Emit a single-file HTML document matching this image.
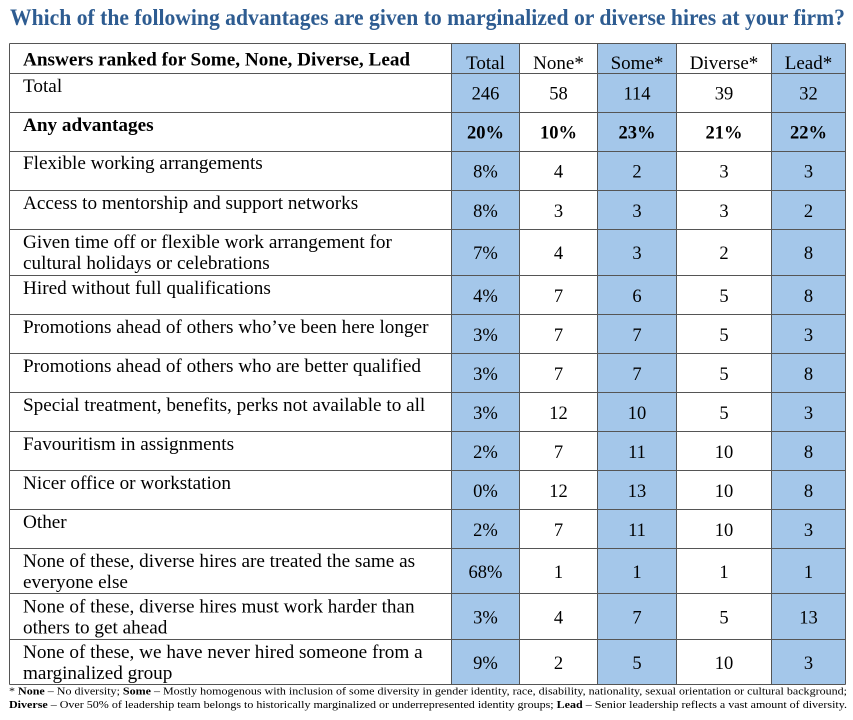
<!DOCTYPE html>
<html>
<head>
<meta charset="utf-8">
<style>
  html,body{margin:0;padding:0;background:#fff;}
  svg{display:block;}
  text{font-family:"Liberation Serif","Times New Roman",serif;fill:#000;}
  .lbl{font-size:19.2px;}
  .num{font-size:18.5px;text-anchor:middle;}
  .hd{font-size:19px;text-anchor:middle;}
  .b{font-weight:bold;}
  .fn{font-size:11px;}
</style>
</head>
<body>
<svg width="853" height="720" viewBox="0 0 853 720" xmlns="http://www.w3.org/2000/svg">
  <rect x="0" y="0" width="853" height="720" fill="#fff"/>
  <text x="10" y="25" font-size="23.5" font-weight="bold" style="fill:#2e5c91" textLength="835" lengthAdjust="spacingAndGlyphs">Which of the following advantages are given to marginalized or diverse hires at your firm?</text>

  <!-- blue columns -->
  <rect x="451.5" y="43.5" width="68" height="641" fill="#a4c7ea"/>
  <rect x="597.5" y="43.5" width="79" height="641" fill="#a4c7ea"/>
  <rect x="771.5" y="43.5" width="74" height="641" fill="#a4c7ea"/>

  <!-- grid -->
  <g stroke="#555" stroke-width="1" fill="none">
    <line x1="9.5" y1="43.5" x2="845.5" y2="43.5"/>
    <line x1="9.5" y1="73.5" x2="845.5" y2="73.5"/>
    <line x1="9.5" y1="112.5" x2="845.5" y2="112.5"/>
    <line x1="9.5" y1="151.5" x2="845.5" y2="151.5"/>
    <line x1="9.5" y1="190.5" x2="845.5" y2="190.5"/>
    <line x1="9.5" y1="229.5" x2="845.5" y2="229.5"/>
    <line x1="9.5" y1="275.5" x2="845.5" y2="275.5"/>
    <line x1="9.5" y1="314.5" x2="845.5" y2="314.5"/>
    <line x1="9.5" y1="353.5" x2="845.5" y2="353.5"/>
    <line x1="9.5" y1="392.5" x2="845.5" y2="392.5"/>
    <line x1="9.5" y1="431.5" x2="845.5" y2="431.5"/>
    <line x1="9.5" y1="470.5" x2="845.5" y2="470.5"/>
    <line x1="9.5" y1="509.5" x2="845.5" y2="509.5"/>
    <line x1="9.5" y1="548.5" x2="845.5" y2="548.5"/>
    <line x1="9.5" y1="593.5" x2="845.5" y2="593.5"/>
    <line x1="9.5" y1="639.5" x2="845.5" y2="639.5"/>
    <line x1="9.5" y1="684.5" x2="845.5" y2="684.5"/>
    <line x1="9.5" y1="43.5" x2="9.5" y2="684.5"/>
    <line x1="451.5" y1="43.5" x2="451.5" y2="684.5"/>
    <line x1="519.5" y1="43.5" x2="519.5" y2="684.5"/>
    <line x1="597.5" y1="43.5" x2="597.5" y2="684.5"/>
    <line x1="676.5" y1="43.5" x2="676.5" y2="684.5"/>
    <line x1="771.5" y1="43.5" x2="771.5" y2="684.5"/>
    <line x1="845.5" y1="43.5" x2="845.5" y2="684.5"/>
  </g>

  <!-- header -->
  <text class="lbl b" x="23" y="65.5">Answers ranked for Some, None, Diverse, Lead</text>
  <text class="hd" x="485.5" y="69">Total</text>
  <text class="hd" x="558.5" y="69">None*</text>
  <text class="hd" x="637" y="69">Some*</text>
  <text class="hd" x="724" y="69">Diverse*</text>
  <text class="hd" x="808.5" y="69">Lead*</text>

  <!-- Total -->
  <text class="lbl" x="23" y="92">Total</text>
  <text class="num" x="485.5" y="99.5">246</text>
  <text class="num" x="558.5" y="99.5">58</text>
  <text class="num" x="637" y="99.5">114</text>
  <text class="num" x="724" y="99.5">39</text>
  <text class="num" x="808.5" y="99.5">32</text>

  <!-- Any -->
  <text class="lbl b" x="23" y="131">Any advantages</text>
  <text class="num b" x="485.5" y="138.5">20%</text>
  <text class="num b" x="558.5" y="138.5">10%</text>
  <text class="num b" x="637" y="138.5">23%</text>
  <text class="num b" x="724" y="138.5">21%</text>
  <text class="num b" x="808.5" y="138.5">22%</text>

  <!-- Flexible 151-191 -->
  <text class="lbl" x="23" y="169">Flexible working arrangements</text>
  <text class="num" x="485.5" y="177.5">8%</text>
  <text class="num" x="558.5" y="177.5">4</text>
  <text class="num" x="637" y="177.5">2</text>
  <text class="num" x="724" y="177.5">3</text>
  <text class="num" x="808.5" y="177.5">3</text>

  <!-- Access 191-229 -->
  <text class="lbl" x="23" y="209">Access to mentorship and support networks</text>
  <text class="num" x="485.5" y="217">8%</text>
  <text class="num" x="558.5" y="217">3</text>
  <text class="num" x="637" y="217">3</text>
  <text class="num" x="724" y="217">3</text>
  <text class="num" x="808.5" y="217">2</text>

  <!-- Given 229-275 -->
  <text class="lbl" x="23" y="248">Given time off or flexible work arrangement for</text>
  <text class="lbl" x="23" y="269">cultural holidays or celebrations</text>
  <text class="num" x="485.5" y="259">7%</text>
  <text class="num" x="558.5" y="259">4</text>
  <text class="num" x="637" y="259">3</text>
  <text class="num" x="724" y="259">2</text>
  <text class="num" x="808.5" y="259">8</text>

  <!-- Hired 275-314 -->
  <text class="lbl" x="23" y="294">Hired without full qualifications</text>
  <text class="num" x="485.5" y="302">4%</text>
  <text class="num" x="558.5" y="302">7</text>
  <text class="num" x="637" y="302">6</text>
  <text class="num" x="724" y="302">5</text>
  <text class="num" x="808.5" y="302">8</text>

  <!-- Prom1 314-353 -->
  <text class="lbl" x="23" y="333">Promotions ahead of others who’ve been here longer</text>
  <text class="num" x="485.5" y="341">3%</text>
  <text class="num" x="558.5" y="341">7</text>
  <text class="num" x="637" y="341">7</text>
  <text class="num" x="724" y="341">5</text>
  <text class="num" x="808.5" y="341">3</text>

  <!-- Prom2 353-392 -->
  <text class="lbl" x="23" y="372">Promotions ahead of others who are better qualified</text>
  <text class="num" x="485.5" y="380">3%</text>
  <text class="num" x="558.5" y="380">7</text>
  <text class="num" x="637" y="380">7</text>
  <text class="num" x="724" y="380">5</text>
  <text class="num" x="808.5" y="380">8</text>

  <!-- Special 392-431 -->
  <text class="lbl" x="23" y="411">Special treatment, benefits, perks not available to all</text>
  <text class="num" x="485.5" y="419">3%</text>
  <text class="num" x="558.5" y="419">12</text>
  <text class="num" x="637" y="419">10</text>
  <text class="num" x="724" y="419">5</text>
  <text class="num" x="808.5" y="419">3</text>

  <!-- Fav 431-470 -->
  <text class="lbl" x="23" y="450">Favouritism in assignments</text>
  <text class="num" x="485.5" y="458">2%</text>
  <text class="num" x="558.5" y="458">7</text>
  <text class="num" x="637" y="458">11</text>
  <text class="num" x="724" y="458">10</text>
  <text class="num" x="808.5" y="458">8</text>

  <!-- Nicer 470-509 -->
  <text class="lbl" x="23" y="489">Nicer office or workstation</text>
  <text class="num" x="485.5" y="497">0%</text>
  <text class="num" x="558.5" y="497">12</text>
  <text class="num" x="637" y="497">13</text>
  <text class="num" x="724" y="497">10</text>
  <text class="num" x="808.5" y="497">8</text>

  <!-- Other 509-548 -->
  <text class="lbl" x="23" y="528">Other</text>
  <text class="num" x="485.5" y="536">2%</text>
  <text class="num" x="558.5" y="536">7</text>
  <text class="num" x="637" y="536">11</text>
  <text class="num" x="724" y="536">10</text>
  <text class="num" x="808.5" y="536">3</text>

  <!-- None1 548-593 -->
  <text class="lbl" x="23" y="567">None of these, diverse hires are treated the same as</text>
  <text class="lbl" x="23" y="588">everyone else</text>
  <text class="num" x="485.5" y="578">68%</text>
  <text class="num" x="558.5" y="578">1</text>
  <text class="num" x="637" y="578">1</text>
  <text class="num" x="724" y="578">1</text>
  <text class="num" x="808.5" y="578">1</text>

  <!-- None2 593-639 -->
  <text class="lbl" x="23" y="612.5">None of these, diverse hires must work harder than</text>
  <text class="lbl" x="23" y="633.5">others to get ahead</text>
  <text class="num" x="485.5" y="623.5">3%</text>
  <text class="num" x="558.5" y="623.5">4</text>
  <text class="num" x="637" y="623.5">7</text>
  <text class="num" x="724" y="623.5">5</text>
  <text class="num" x="808.5" y="623.5">13</text>

  <!-- None3 639-684 -->
  <text class="lbl" x="23" y="658">None of these, we have never hired someone from a</text>
  <text class="lbl" x="23" y="679">marginalized group</text>
  <text class="num" x="485.5" y="669">9%</text>
  <text class="num" x="558.5" y="669">2</text>
  <text class="num" x="637" y="669">5</text>
  <text class="num" x="724" y="669">10</text>
  <text class="num" x="808.5" y="669">3</text>

  <!-- footnote -->
  <text class="fn" x="9" y="694.5" textLength="838" lengthAdjust="spacingAndGlyphs">* <tspan font-weight="bold">None</tspan> – No diversity; <tspan font-weight="bold">Some</tspan> – Mostly homogenous with inclusion of some diversity in gender identity, race, disability, nationality, sexual orientation or cultural background;</text>
  <text class="fn" x="9" y="708" textLength="838" lengthAdjust="spacingAndGlyphs"><tspan font-weight="bold">Diverse</tspan> – Over 50% of leadership team belongs to historically marginalized or underrepresented identity groups; <tspan font-weight="bold">Lead</tspan> – Senior leadership reflects a vast amount of diversity.</text>
</svg>
</body>
</html>
